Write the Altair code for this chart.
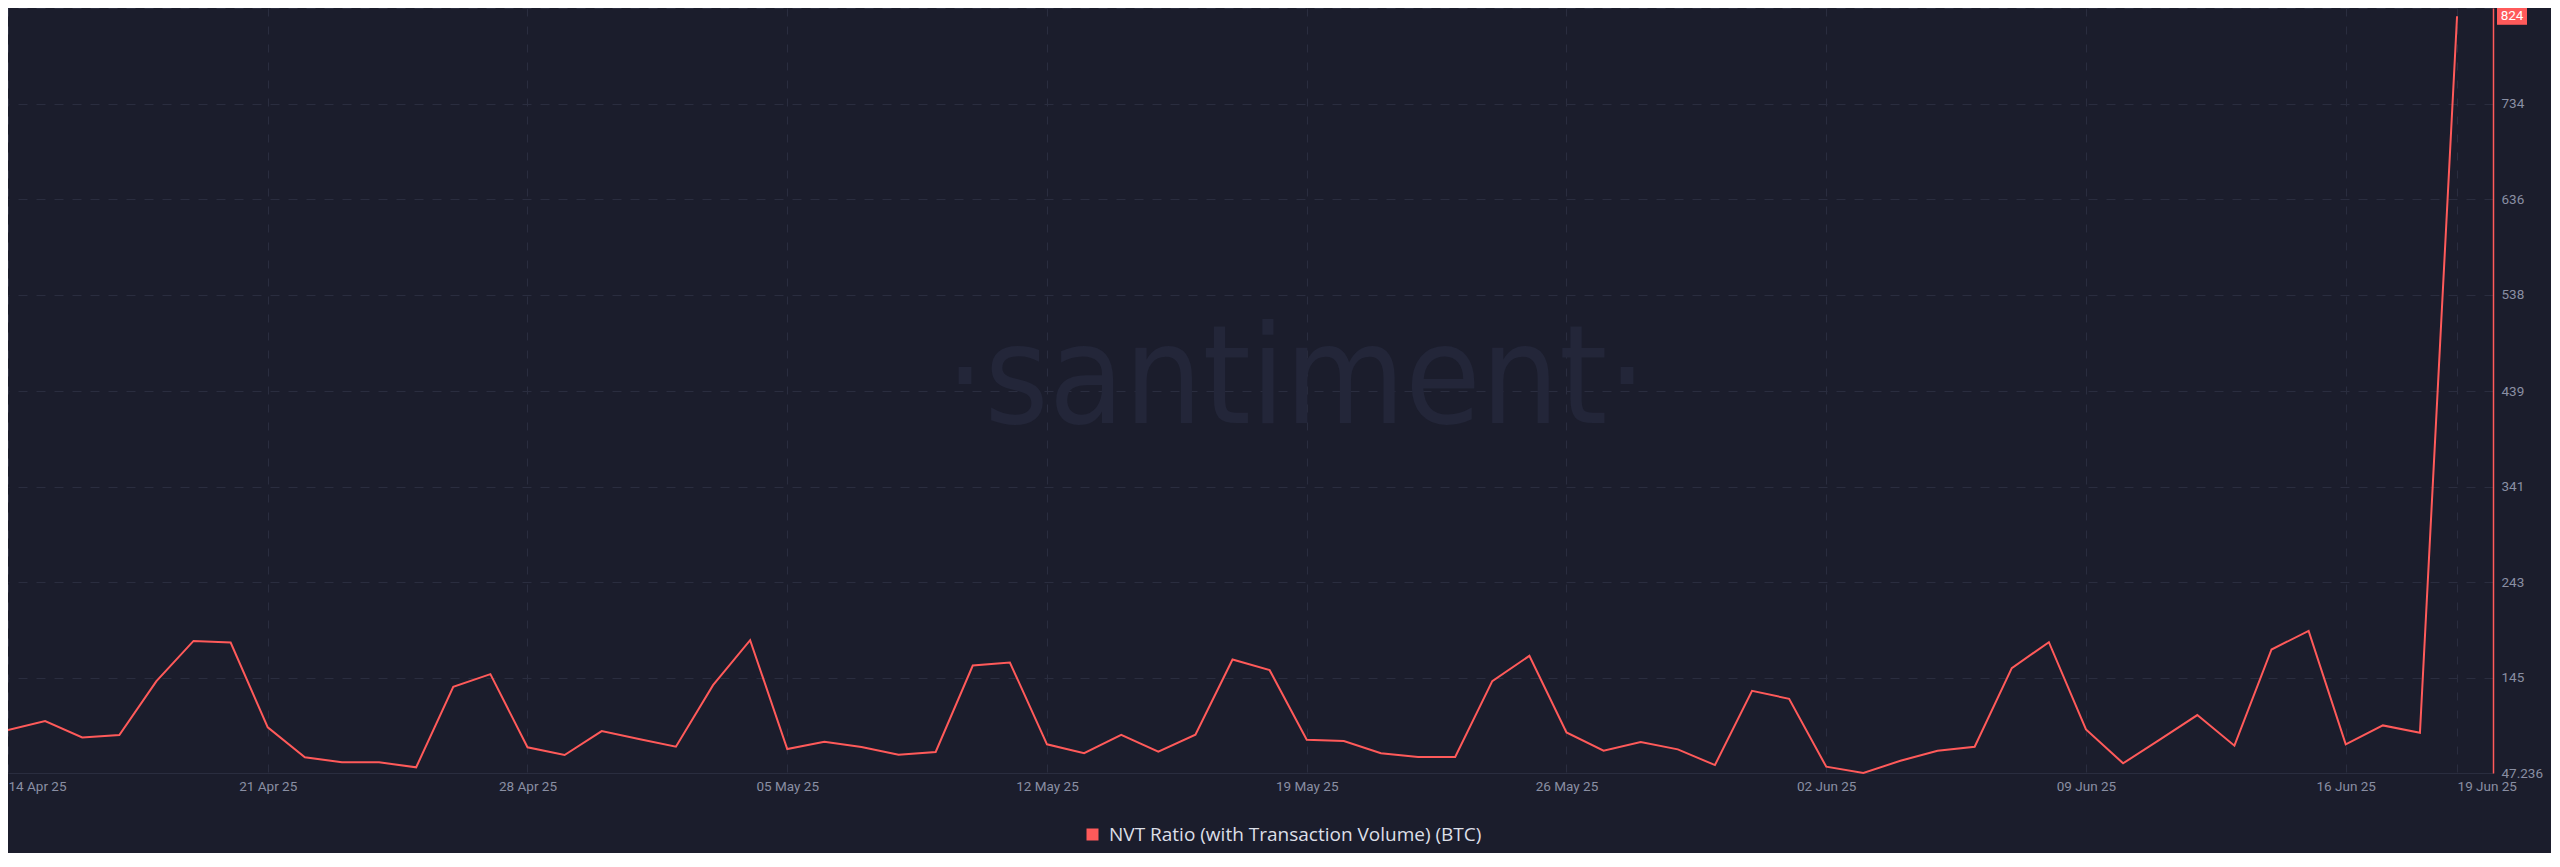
import altair as alt
import pandas as pd

# ---------------- data ----------------
series_name = "NVT Ratio (with Transaction Volume) (BTC)"
start_date = "2025-04-14"
nvt_values = [
    91.3, 100.5, 83.8, 86.2, 141.5, 182.8, 181.2,
    94.1, 63.3, 58.2, 58.2, 53.1, 135.7, 148.7,
    73.6, 65.7, 90.3, 82.1, 74.2, 137.4, 183.6,
    71.8, 79.3, 73.9, 66.0, 68.8, 157.6, 160.7,
    76.7, 67.5, 86.5, 69.1, 86.5, 163.8, 152.8,
    81.4, 80.0, 67.5, 63.6, 63.6, 141.5, 167.5,
    88.9, 70.1, 79.0, 71.5, 55.4, 131.6, 123.4,
    53.7, 47.236, 59.8, 70.1, 74.2, 154.9, 181.5,
    92.0, 57.2, 81.8, 106.7, 75.3, 174.0, 193.1,
    76.7, 96.1, 88.5, 824.0,
]
x_tick_dates = ["2025-04-14", "2025-04-21", "2025-04-28", "2025-05-05",
                "2025-05-12", "2025-05-19", "2025-05-26", "2025-06-02",
                "2025-06-09", "2025-06-16", "2025-06-19"]
x_domain = ["2025-04-14T00:00:00", "2025-06-19T23:15:00"]
y_ticks = [47.236, 145, 243, 341, 439, 538, 636, 734, 832]
y_domain = [47.236, 832.5]
watermark_text = "·santiment·"

# ---------------- styles ----------------
BG = "#1b1d2c"
RED = "#ff5a5a"
GRID = "#2a2d3f"
LABEL = "#8a8fa3"
WM = "#232639"


def ms(s):
    return int(pd.Timestamp(s, tz="UTC").value // 10**6)


dates = pd.date_range(start_date, periods=len(nvt_values), freq="D", tz="UTC")
df = pd.DataFrame({
    "date": [int(d.value // 10**6) for d in dates],
    "value": nvt_values,
    "series": series_name,
})
badge_df = pd.DataFrame({"value": [nvt_values[-1]],
                         "label": [f"{nvt_values[-1]:.0f}"]})
wm_df = pd.DataFrame({"t": [watermark_text]})

x_enc = alt.X(
    "date:T",
    scale=alt.Scale(type="utc", domain=[ms(x_domain[0]), ms(x_domain[1])]),
    axis=alt.Axis(
        values=[ms(d) for d in x_tick_dates],
        labelExpr="utcFormat(datum.value, '%d %b %y')",
        title=None,
        ticks=False,
        labelPadding=6,
        labelFont="Roboto",
        labelFontSize=13.5,
        labelColor=LABEL,
        labelAlign={"condition": {"test": "datum.index == 0 || datum.index == 1",
                                  "value": "left"},
                    "value": "center"},
        domainColor=GRID,
        domainWidth=1,
        grid=True,
        gridColor=GRID,
        gridDash=[8, 10],
        gridWidth=1,
    ),
)

y_enc = alt.Y(
    "value:Q",
    scale=alt.Scale(domain=y_domain, nice=False, zero=False),
    axis=alt.Axis(
        orient="right",
        values=y_ticks,
        labelExpr="format(datum.value, '.5~r')",
        title=None,
        ticks=False,
        labelPadding=8,
        labelFont="Roboto",
        labelFontSize=13.5,
        labelColor=LABEL,
        domainColor=RED,
        domainWidth=1.5,
        grid=True,
        gridColor=GRID,
        gridDash=[9, 9],
        gridWidth=1,
    ),
)

watermark = alt.Chart(wm_df).mark_text(
    font="DejaVu Sans Condensed",
    fontSize=137,
    color=WM,
    align="center",
    baseline="alphabetic",
).encode(text="t:N", x=alt.value(1288), y=alt.value(415))

line = alt.Chart(df).mark_line(strokeWidth=2).encode(
    x=x_enc,
    y=y_enc,
    color=alt.Color(
        "series:N",
        scale=alt.Scale(domain=[series_name], range=[RED]),
        legend=alt.Legend(
            orient="none",
            legendX=1075,
            legendY=817,
            title=None,
            symbolType="square",
            symbolSize=144,
            symbolFillColor=RED,
            symbolStrokeColor=RED,
            symbolStrokeWidth=0,
            labelFont="Open Sans",
            labelFontSize=19,
            labelColor="#dcdfe7",
            labelOffset=7,
            labelLimit=0,
            padding=0,
        ),
    ),
)

badge_rect = alt.Chart(badge_df).mark_point(
    shape="M-1,-0.567H1V0.567H-1Z",
    size=900,
    filled=True,
    opacity=1,
    color=RED,
).encode(x=alt.value(2504), y=alt.Y("value:Q"))

badge_text = alt.Chart(badge_df).mark_text(
    color="white",
    font="Roboto",
    fontSize=13.5,
    align="center",
    baseline="middle",
).encode(x=alt.value(2504), y=alt.Y("value:Q"), text="label:N")

chart = alt.layer(watermark, line, badge_rect, badge_text).properties(
    width=2485,
    height=765,
    background=BG,
    padding={"left": 0, "top": 0, "right": 58, "bottom": 80},
    autosize=alt.AutoSizeParams(type="none"),
).configure_view(stroke=None)

chart.save("out.html", embed_options={"renderer": "svg", "actions": False})
